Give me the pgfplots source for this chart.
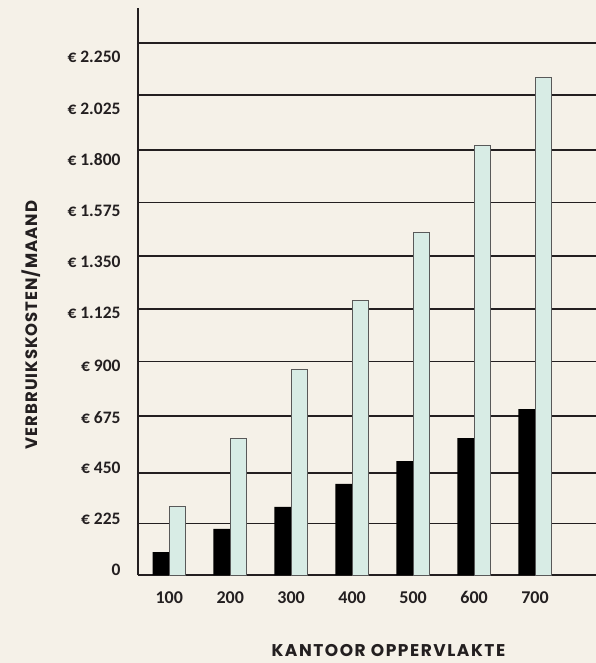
\documentclass[border=0pt]{standalone}
\usepackage{fontspec}
\setmainfont{Carlito}
\newfontfamily\xtitlefont{Poppins}[LetterSpace=9]
\newfontfamily\ytitlefont{Poppins}[LetterSpace=6]
\usepackage{pgfplots}
\pgfplotsset{compat=1.18}
\definecolor{bg}{HTML}{F5F1E8}
\definecolor{mint}{HTML}{D8ECE5}
\definecolor{ink}{HTML}{231F20}
\begin{document}
\begin{tikzpicture}
\fill[bg] (-137.7pt,-88pt) rectangle (458.3pt,575pt);
\useasboundingbox (-137.7pt,-88pt) rectangle (458.3pt,575pt);
\begin{axis}[
  at={(0,0)}, anchor=south west,
  scale only axis, width=458.3pt, height=567pt,
  xmin=0.483, xmax=8, ymin=0, ymax=2398,
  axis x line=bottom, axis y line=left,
  axis line style={-, line width=2.2pt, ink},
  major tick length=0pt,
  xtick={1,2,3,4,5,6,7},
  xticklabels={100,200,300,400,500,600,700},
  ytick={21.1,235.6,451.3,665.3,883.9,1108.1,1325.1,1540.8,1758.2,1972.2,2190.8},
  yticklabels={0,€ 225,€ 450,€ 675,€ 900,€ 1.125,€ 1.350,€ 1.575,€ 1.800,€ 2.025,€ 2.250},
  extra y ticks={217.0,431.4,672.5,902.1,1125.0,1349.2,1574.6,1797.5,2030.1,2250.0},
  extra y tick labels={},
  extra y tick style={grid=major, major grid style={ink, line width=1.3pt}},
  xticklabel style={inner sep=0pt, anchor=north, yshift=-16pt, font=\fontsize{18}{20}\selectfont\bfseries, text=ink},
  yticklabel style={inner sep=0pt, anchor=east, xshift=-17pt, font=\fontsize{17.5}{20}\selectfont\bfseries, text=ink},
  xlabel={KANTOOR OPPERVLAKTE},
  ylabel={VERBRUIKSKOSTEN/MAAND},
  every axis x label/.style={at={(axis description cs:0.547,-0.1332)}, anchor=center, font=\xtitlefont\fontsize{17}{20}\selectfont\bfseries, text=ink},
  every axis y label/.style={at={(axis description cs:-0.2317,0.441)}, anchor=center, rotate=90, font=\ytitlefont\fontsize{16.5}{19}\selectfont\bfseries, text=ink},
  ybar=0pt, bar width=16.7pt,
]
\addplot[fill=black, draw=none] coordinates {(1,97) (2,195) (3,288) (4,385) (5,482) (6,579) (7,702)};
\addplot[fill=mint, draw=black!65, line width=1pt] coordinates {(1,289) (2,578) (3,868) (4,1159) (5,1448) (6,1816) (7,2106)};
\end{axis}
\end{tikzpicture}
\end{document}
